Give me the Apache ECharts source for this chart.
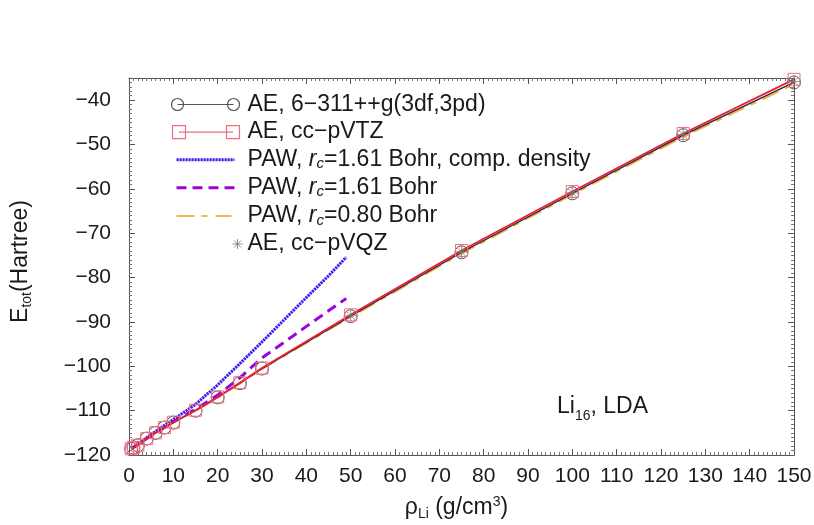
<!DOCTYPE html>
<html><head><meta charset="utf-8">
<script src="https://cdn.jsdelivr.net/npm/echarts@6/dist/echarts.min.js"></script>
<style>html,body{margin:0;padding:0;background:#fff}#c{width:814px;height:525px}</style>
</head><body><div id="c"></div>
<script>
// ---- data ----
const seriesNames = ['AE, 6\u2212311++g(3df,3pd)', 'AE, cc\u2212pVTZ', 'PAW, rc=1.61 Bohr, comp. density', 'PAW, rc=1.61 Bohr', 'PAW, rc=0.80 Bohr', 'AE, cc\u2212pVQZ'];
const rhoAE = [0.5, 1, 2, 4, 6, 8, 10, 15, 20, 25, 30, 50, 75, 100, 125, 150];
const eAE6311 = [-118.6, -118.3, -117.8, -116.3, -115.0, -113.8, -112.7, -110.0, -107.0, -103.8, -100.5, -88.7, -74.3, -61.0, -47.9, -36.0];
const eAEtz   = [-118.6, -118.3, -117.8, -116.3, -115.0, -113.8, -112.6, -109.9, -106.9, -103.7, -100.4, -88.4, -73.9, -60.6, -47.5, -35.3];
const ePAW080 = [-118.6, -118.3, -117.8, -116.3, -115.0, -113.8, -112.7, -110.0, -107.1, -103.9, -100.6, -88.9, -74.6, -61.3, -48.3, -36.4];
const rhoPAW = [0.5, 1, 2, 4, 6, 8, 10, 15, 20, 25, 30, 35, 40, 45, 49];
const ePAWcomp = [-118.5, -118.2, -117.6, -116.1, -114.7, -113.3, -112.0, -108.6, -104.2, -99.4, -94.5, -89.5, -84.5, -79.6, -75.4];
const ePAW161  = [-118.6, -118.3, -117.7, -116.3, -115.0, -113.8, -112.5, -109.7, -106.5, -102.6, -98.1, -94.6, -91.0, -87.5, -84.7];
const rhoQZ = [50, 75, 100, 125, 150];
const eAEqz = [-88.6, -74.2, -60.9, -47.8, -35.8];
const xTickLabels = ['0','10','20','30','40','50','60','70','80','90','100','110','120','130','140','150'];
const yTickLabels = ['\u2212120','\u2212110','\u2212100','\u221290','\u221280','\u221270','\u221260','\u221250','\u221240'];

// ---- helpers ----
const zip = (xs, ys) => xs.map((x, i) => [x, ys[i]]);
const FONT = 'Liberation Sans, Arial, Helvetica, sans-serif';
const TXT = '#1a1a1a';
const AX = '#555';
function segPath(x0, x1, dash, gap) {
  let s = '';
  for (let x = x0; x < x1; x += dash + gap) s += 'M' + x + ',8L' + Math.min(x + dash, x1) + ',8';
  return s;
}
const BOX = 'M0,0M72,16';
const icons = [
  'path://' + BOX + 'M1,8A6,6,0,1,1,13,8A6,6,0,1,1,1,8ZM57,8A6,6,0,1,1,69,8A6,6,0,1,1,57,8ZM7,8L63,8',
  'path://' + BOX + 'M2,1.5L15,1.5L15,14.5L2,14.5ZM56,1.5L69,1.5L69,14.5L56,14.5ZM8.5,8L62.5,8',
  'path://' + BOX + segPath(6, 64, 2.2, 0.8),
  'path://' + BOX + 'M6,8L16,8M22,8L32,8M38,8L48,8M54,8L64,8',
  'path://' + BOX + 'M6,8L24,8M31,8L37,8M45,8L61,8',
  'path://' + BOX + 'M67,3L67,13M62,8L72,8M63.5,4.5L70.5,11.5M63.5,11.5L70.5,4.5'
];
const iconStyles = [
  {color: 'none', borderColor: '#555', borderWidth: 1.2, borderType: 'solid'},
  {color: 'none', borderColor: '#f26d7d', borderWidth: 1.2, borderType: 'solid'},
  {color: 'none', borderColor: '#3d1cf2', borderWidth: 3, borderType: 'solid'},
  {color: 'none', borderColor: '#9a05dc', borderWidth: 3, borderType: 'solid'},
  {color: 'none', borderColor: '#f6b352', borderWidth: 2, borderType: 'solid'},
  {color: 'none', borderColor: '#777', borderWidth: 1, borderType: 'solid'}
];
const legendRich = [
  '{t|AE, 6\u2212311++g(3df,3pd)}',
  '{t|AE, cc\u2212pVTZ}',
  '{t|PAW, }{i|r}{s|c}{t|=1.61 Bohr, comp. density}',
  '{t|PAW, }{i|r}{s|c}{t|=1.61 Bohr}',
  '{t|PAW, }{i|r}{s|c}{t|=0.80 Bohr}',
  '{t|AE, cc\u2212pVQZ}'
];
const richBase = {
  t: {fontSize: 23, lineHeight: 24, fontFamily: FONT, color: TXT},
  i: {fontSize: 23, lineHeight: 24, fontFamily: FONT, color: TXT, fontStyle: 'italic'},
  s: {fontSize: 15, fontFamily: FONT, color: TXT, fontStyle: 'italic', verticalAlign: 'bottom'}
};

const xAxisCommon = {
  type: 'value', min: 0, max: 150, interval: 10,
  axisLine: {show: true, onZero: false, lineStyle: {color: AX, width: 1}},
  axisTick: {show: true, inside: true, length: 6, lineStyle: {color: AX, width: 1}},
  minorTick: {show: true, splitNumber: 10, length: 3, lineStyle: {color: '#777', width: 1}},
  splitLine: {show: false}, minorSplitLine: {show: false}
};
const yAxisCommon = {
  type: 'value', min: -120, max: -35, interval: 10,
  axisLine: {show: true, onZero: false, lineStyle: {color: AX, width: 1}},
  axisTick: {show: true, inside: true, length: 6, lineStyle: {color: AX, width: 1}},
  minorTick: {show: true, splitNumber: 10, length: 3, lineStyle: {color: '#777', width: 1}},
  splitLine: {show: false}, minorSplitLine: {show: false}
};

const chart = echarts.init(document.getElementById('c'), null, {renderer: 'canvas'});
chart.setOption({
  animation: false,
  backgroundColor: '#fff',
  grid: {left: 129, right: 20, top: 78, bottom: 70, outerBoundsMode: 'none', containLabel: false},
  title: {
    text: '{a|Li}{s|16}{a|, LDA}',
    left: 557, top: 395, padding: 0,
    textStyle: {
      fontWeight: 'normal',
      rich: {
        a: {fontSize: 23, lineHeight: 24, fontFamily: FONT, color: TXT, fontWeight: 'normal'},
        s: {fontSize: 14, fontFamily: FONT, color: TXT, fontWeight: 'normal', verticalAlign: 'bottom', padding: [0, 0, -4, 0]}
      }
    }
  },
  legend: {
    show: true, orient: 'vertical', left: 168, top: 93, padding: 0,
    itemWidth: 72, itemHeight: 16, itemGap: 4.6, selectedMode: false,
    symbolKeepAspect: true,
    data: seriesNames.map((n, i) => ({name: n, icon: icons[i], itemStyle: iconStyles[i]})),
    formatter: name => legendRich[seriesNames.indexOf(name)],
    textStyle: {fontSize: 23, fontFamily: FONT, color: TXT, rich: richBase}
  },
  xAxis: [
    Object.assign({}, xAxisCommon, {
      position: 'bottom',
      axisLabel: {show: true, margin: 11, fontSize: 21, fontFamily: FONT, color: TXT,
        formatter: v => { const i = Math.round(v / 10); return xTickLabels[i] !== undefined && Math.abs(v - i * 10) < 1e-6 ? xTickLabels[i] : ''; }},
      name: '{a|\u03c1}{s|Li}{a| (g/cm}{p|3}{a|)}',
      nameLocation: 'middle', nameGap: 40,
      nameTextStyle: {
        padding: [0, 10, 0, 0],
        rich: {
          a: {fontSize: 23, lineHeight: 26, fontFamily: FONT, color: TXT},
          s: {fontSize: 14, fontFamily: FONT, color: TXT, verticalAlign: 'bottom'},
          p: {fontSize: 14, fontFamily: FONT, color: TXT, verticalAlign: 'top'}
        }
      }
    }),
    Object.assign({}, xAxisCommon, {position: 'top', axisLabel: {show: false}})
  ],
  yAxis: [
    Object.assign({}, yAxisCommon, {
      position: 'left',
      axisLabel: {show: true, margin: 18, fontSize: 21, fontFamily: FONT, color: TXT, showMaxLabel: false,
        formatter: v => { const i = Math.round((v + 120) / 10); return yTickLabels[i] !== undefined && Math.abs(v - (-120 + i * 10)) < 1e-6 ? yTickLabels[i] : ''; }},
      name: '{a|E}{s|tot}{a|(Hartree)}',
      nameLocation: 'middle', nameGap: 95, nameRotate: 90,
      nameTextStyle: {
        padding: [0, 0, 0, 10],
        rich: {
          a: {fontSize: 23, lineHeight: 26, fontFamily: FONT, color: TXT},
          s: {fontSize: 14, fontFamily: FONT, color: TXT, verticalAlign: 'bottom'}
        }
      }
    }),
    Object.assign({}, yAxisCommon, {position: 'right', axisLabel: {show: false}})
  ],
  series: [
    {
      name: seriesNames[0], type: 'line', data: zip(rhoAE, eAE6311),
      symbol: 'circle', symbolSize: 13, showSymbol: true,
      itemStyle: {color: 'rgba(0,0,0,0)', borderColor: '#555', borderWidth: 1},
      lineStyle: {color: '#333', width: 1.5}, z: 4, emphasis: {disabled: true}
    },
    {
      name: seriesNames[1], type: 'line', data: zip(rhoAE, eAEtz),
      symbol: 'rect', symbolSize: 12, showSymbol: true,
      itemStyle: {color: 'rgba(0,0,0,0)', borderColor: '#f26d7d', borderWidth: 1},
      lineStyle: {color: '#ee1c3a', width: 1.8}, z: 5, emphasis: {disabled: true}
    },
    {
      name: seriesNames[2], type: 'line', data: zip(rhoPAW, ePAWcomp),
      symbol: 'none', lineStyle: {color: '#3d1cf2', width: 3, type: [2.2, 0.8]}, z: 3, emphasis: {disabled: true}
    },
    {
      name: seriesNames[3], type: 'line', data: zip(rhoPAW, ePAW161),
      symbol: 'none', lineStyle: {color: '#9a05dc', width: 3, type: [10, 6]}, z: 3, emphasis: {disabled: true}
    },
    {
      name: seriesNames[4], type: 'line', data: zip(rhoAE, ePAW080),
      symbol: 'none', lineStyle: {color: '#f6b352', width: 2, type: [18, 7, 6, 7]}, z: 2, emphasis: {disabled: true}
    },
    {
      name: seriesNames[5], type: 'scatter', data: zip(rhoQZ, eAEqz),
      symbol: 'path://M6,0L6,12M0,6L12,6M1.8,1.8L10.2,10.2M1.8,10.2L10.2,1.8', symbolSize: 12,
      itemStyle: {color: 'none', borderColor: '#777', borderWidth: 1}, z: 6, emphasis: {disabled: true}
    }
  ]
});
</script></body></html>
